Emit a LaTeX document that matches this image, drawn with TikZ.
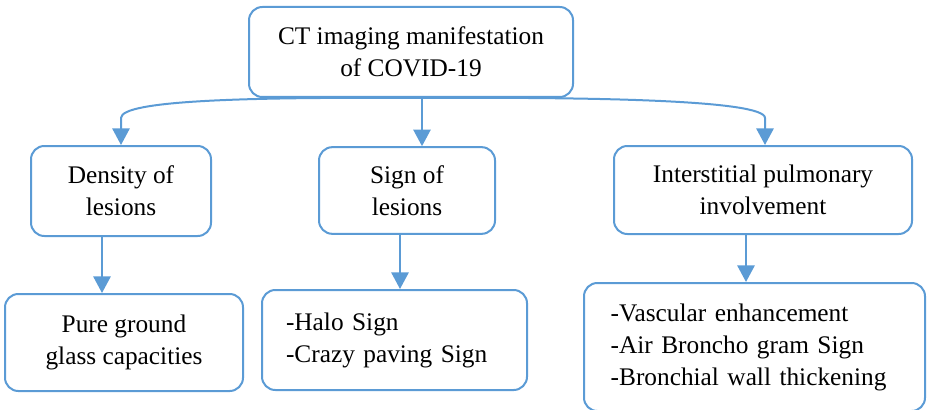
\documentclass[tikz,border=0pt]{standalone}
\usepackage{fontspec}
\setmainfont{Liberation Serif}
\usetikzlibrary{arrows.meta,positioning}
\definecolor{linkblue}{RGB}{91,155,213}

\begin{document}
\begin{tikzpicture}[x=0.75pt,y=-0.75pt,
		box/.style={draw=linkblue, line width=1.5pt, rounded corners=10pt, align=center, inner sep=0pt, font=\fontsize{19}{24}\selectfont},
		listbox/.style={box, align=left},
		link/.style={draw=linkblue, line width=1.5pt, -{Triangle[width=13pt,length=12.5pt]}}]
		\useasboundingbox (0,0) rectangle (928,410);
		\node [box, minimum width=243pt, minimum height=67.5pt] (top) at (411,52) {CT imaging manifestation\\of COVID-19};
		\node [box, minimum width=135pt, minimum height=67.5pt] (dens) at (121,191) {Density of\\lesions};
		\node [box, minimum width=132pt, minimum height=65pt] (sign) at (407,190.5) {Sign of\\lesions};
		\node [box, minimum width=223.5pt, minimum height=66pt] (inter) at (763,190) {Interstitial pulmonary\\involvement};
		\node [box, minimum width=178.5pt, minimum height=72.75pt] (pure) at (124,342.5) {Pure ground\\glass capacities};
		\node [listbox, text width=162.75pt, inner xsep=18pt, minimum height=75pt] (halo) at (394.5,340) {-Halo Sign\\-Crazy paving Sign};
		\node [listbox, text width=215.75pt, inner xsep=20pt, minimum height=96pt] (vasc) at (754.5,347) {-Vascular enhancement\\-Air Broncho gram Sign\\-Bronchial wall thickening};
		\coordinate (fork) at (422,0 |- top.south);
		\draw [link] (fork) .. controls (250,97) and (121,100) .. (121,118) -- (121,0 |- dens.north);
		\draw [link] (fork) -- (422,0 |- sign.north);
		\draw [link] (fork) .. controls (594,97) and (765,100) .. (765,118) -- (765,0 |- inter.north);
		\draw [link] (102,0 |- dens.south) -- (102,0 |- pure.north);
		\draw [link] (400,0 |- sign.south) -- (400,0 |- halo.north);
		\draw [link] (746,0 |- inter.south) -- (746,0 |- vasc.north);
	\end{tikzpicture}
\end{document}
